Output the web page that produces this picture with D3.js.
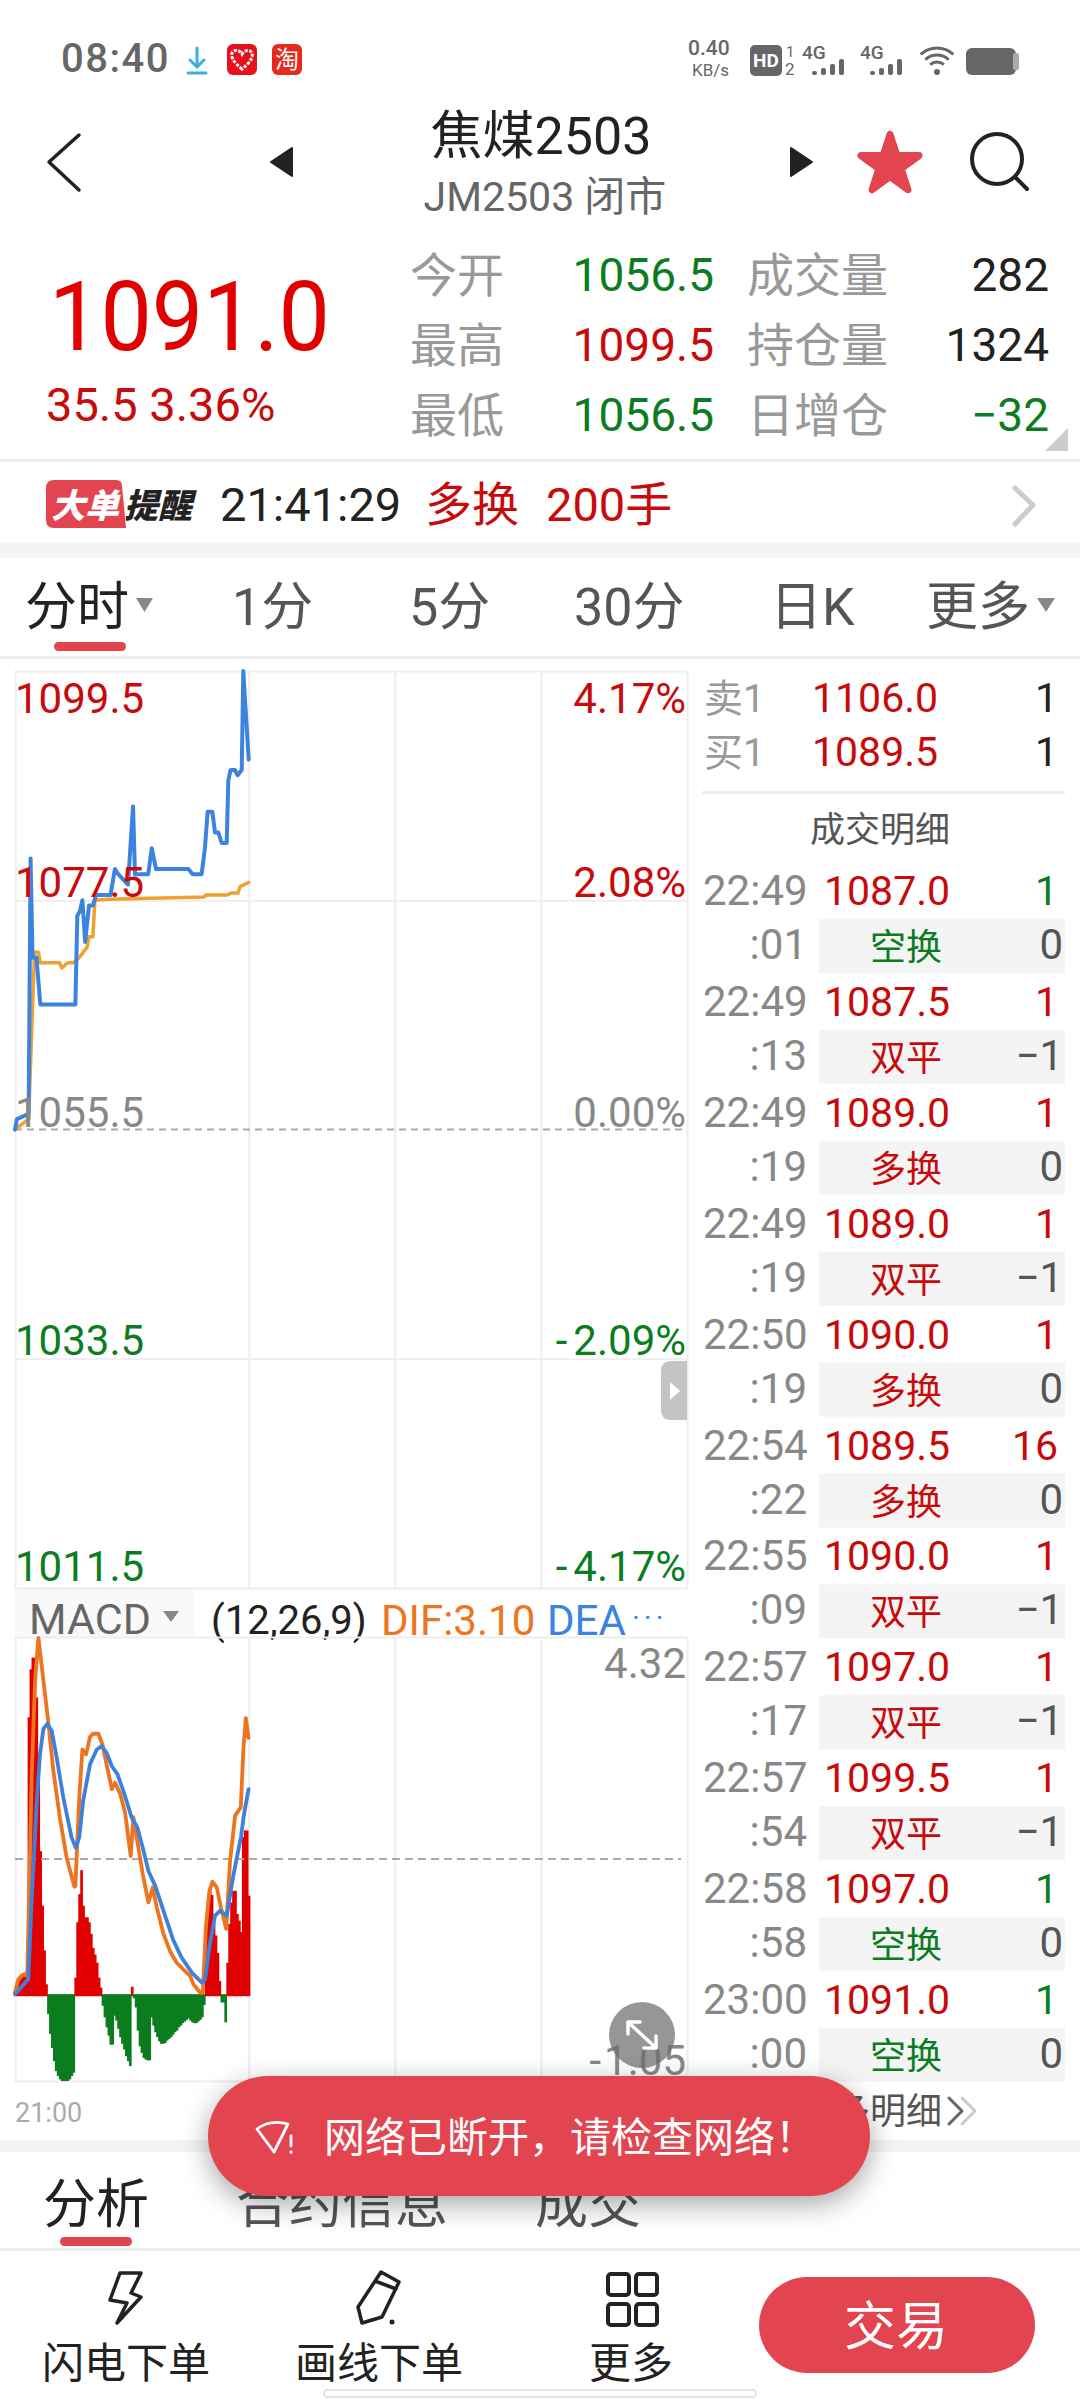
<!DOCTYPE html>
<html>
<head>
<meta charset="utf-8">
<script src="https://cdn.jsdelivr.net/npm/d3@7"></script>
<style>
  html, body { margin: 0; padding: 0; background: #fff; }
  svg { display: block; }
  text { font-family: Roboto, "Noto Sans CJK SC", sans-serif; }
  .grid line { stroke: #eeeeee; stroke-width: 2; }
  .grid path { display: none; }
  .toast { filter: drop-shadow(0 8px 14px rgba(0,0,0,.35)); }
</style>
</head>
<body>
<svg id="screen" width="1080" height="2400"></svg>
<script>
// session: 21:00 is minute 0, the full trading day has 345 minutes
const priceMinutes = [0,1,7,8,9,11,13,31,32,33.4,34.6,36,38,40,41.6,46,49,51.3,53,58,60.6,61.6,68.4,70.2,72.4,89,91.2,95.8,97.5,98.9,101.3,102.7,104.4,106.1,108.7,109.5,110.7,112.9,114.3,116.4,117.2,118,120];
const priceValues = [1055.5,1056.5,1057,1081.5,1072,1072,1067.5,1067.5,1076,1076.5,1077.5,1073.5,1077,1077,1078,1078,1078,1080.5,1080,1079,1086.5,1080,1080,1082.5,1080.5,1080.5,1080,1080,1082.5,1086,1086,1084,1084,1083,1083,1089,1090,1090,1089.5,1090,1099.5,1097,1091];
const avgMinutes = [0,7,10,12,13,23,24,27,30,33,35,37,38,40,41,48,97,98,109,111,114.5,115.5,120];
const avgValues = [1055.5,1056.5,1072.5,1072.5,1071.5,1071.5,1071,1071.5,1071.5,1072,1072.5,1073,1074,1074,1077.5,1077.6,1077.8,1078,1078,1078.2,1078.2,1078.8,1079.2];
const priceTicks = [1099.5,1077.5,1055.5,1033.5,1011.5];
const priceTickPercents = ['4.17%','2.08%','0.00%','-2.09%','-4.17%'];
const timeGridMinutes = [120,195,270];

const macdBars = [0.05,0.12,0.2,0.24,0.25,0.26,0.27,3.35,3.93,4.07,4.07,3.59,2.56,1.73,1.07,0.53,0.12,
  -0.24,-0.48,-0.65,-0.81,-0.93,-0.99,-1.03,-1.05,-1.05,-1.05,-1.05,-1.03,-0.99,-0.95,
  0.2,0.87,1.21,1.5,1.07,0.93,0.93,0.87,0.73,0.56,0.48,0.38,0.2,0.08,
  -0.14,-0.28,-0.4,-0.5,-0.61,-0.61,-0.26,-0.32,-0.42,-0.52,-0.6,-0.67,-0.75,-0.81,-0.87,
  0.09,-0.05,-0.16,-0.44,-0.63,-0.71,-0.77,-0.79,-0.8,-0.8,-0.28,-0.38,-0.46,-0.52,-0.57,-0.6,-0.6,-0.59,-0.56,-0.54,-0.52,-0.49,-0.46,-0.44,-0.4,-0.38,-0.35,-0.33,-0.31,-0.29,-0.32,-0.34,-0.35,-0.35,-0.33,-0.31,-0.28,-0.13,
  0.79,1.13,1.29,1.2,0.85,0.71,0.5,0.16,-0.1,-0.1,-0.34,
  0.38,0.85,1.11,1.25,1.25,0.97,0.89,0.75,1.9,1.98,1.98,1.19];
const difMinutes = [0,1.7,4.3,6.3,7.2,8.6,10.3,12,17,19.7,23,26.5,30.5,31,33,34.6,36.5,38.5,40,42.8,44.9,47,49.7,51.4,54,56.5,59.4,60.8,62.8,65.6,68.5,70.7,72.8,76.2,79.6,83,87.3,89.9,91.6,95,96.4,98,99.8,101.4,103.6,105.7,108.4,110.4,113,115.9,117.3,118.5,119.9];
const difValues = [0.02,0.18,0.24,0.22,1.17,2.66,3.79,4.31,3.31,2.7,2.14,1.65,1.3,1.31,2.38,2.96,2.9,3.11,3.15,3.15,3.02,2.78,2.48,2.56,2.42,2.2,1.67,2.14,1.85,1.45,1.11,1.29,1.05,0.73,0.52,0.38,0.28,0.22,0.12,0.02,0.02,0.81,1.25,1.36,1.29,1.05,0.79,1.61,2.16,2.26,2.98,3.34,3.1];
const deaMinutes = [0,6.8,8.6,11,12.8,14.6,16.6,18.8,21.4,24.8,29,31.2,33,35,38.5,42,44.5,47,49.7,52.6,55.6,60,62.8,65.6,68.5,72,76.2,81.3,85.6,90.8,95.9,97.6,100,102.7,105.3,108.7,112.2,116,117.6,119.9];
const deaValues = [0,0.18,1.17,2.26,2.9,3.21,3.27,3.19,2.86,2.38,1.9,1.77,1.9,2.34,2.78,2.96,3,2.92,2.76,2.66,2.46,2.13,2.02,1.77,1.49,1.31,1.01,0.65,0.44,0.26,0.14,0.18,0.6,0.95,1.01,0.95,1.45,1.9,2.18,2.48];

const tradeTimes = ['22:49','22:49','22:49','22:49','22:50','22:54','22:55','22:57','22:57','22:58','23:00'];
const tradeSeconds = [':01',':13',':19',':19',':19',':22',':09',':17',':54',':58',':00'];
const tradePrices = ['1087.0','1087.5','1089.0','1089.0','1090.0','1089.5','1090.0','1097.0','1099.5','1097.0','1091.0'];
const tradeVolumes = [1,1,1,1,1,16,1,1,1,1,1];
const tradeSides = ['sell','buy','buy','buy','buy','buy','buy','buy','buy','sell','sell'];
const tradeKinds = ['空换','双平','多换','双平','多换','多换','双平','双平','双平','空换','空换'];
const tradeOpenInterest = ['0','−1','0','−1','0','0','−1','−1','−1','0','0'];

const RED = '#c90a0a', GREEN = '#0b7d1f', GRAY = '#888888', DARK = '#222222', ACCENT = '#e2454f';

const svg = d3.select('#screen');

function text(parent, x, y, str, size, fill, anchor = 'start', extra = {}) {
    const t = parent.append('text')
        .attr('x', x).attr('y', y)
        .attr('font-size', size)
        .attr('fill', fill)
        .attr('text-anchor', anchor);
    // the app leaves a wider gap after a leading minus sign
    if (String(str).startsWith('-')) {
        t.append('tspan').text('-');
        t.append('tspan').attr('dx', extra.minusGap || 0).text(String(str).slice(1));
    } else {
        t.text(str);
    }
    Object.entries(extra).filter(([k]) => k !== 'minusGap').forEach(([k, v]) => t.attr(k, v));
    return t;
}

function stroke(parent, d, color, width) {
    return parent.append('path').attr('d', d)
        .attr('fill', 'none').attr('stroke', color).attr('stroke-width', width)
        .attr('stroke-linecap', 'round').attr('stroke-linejoin', 'round');
}

function renderStatusBar() {
    const g = svg.append('g');
    text(g, 61, 72, '08:40', 40, '#666666', 'start', { 'letter-spacing': 1.5, 'font-weight': 500 });
    stroke(g, 'M197,48V66M190,60L197,67L204,60', '#3ab0e0', 3);
    stroke(g, 'M188,73H206', '#3ab0e0', 3);
    g.append('rect').attr('x', 227).attr('y', 44).attr('width', 30).attr('height', 31).attr('rx', 6).attr('fill', '#e8101c');
    g.append('path').attr('d', 'M242,69C232,61 231,56 232,53C234,49 240,50 242,54C244,50 250,49 252,53C253,56 252,61 242,69Z')
        .attr('fill', 'none').attr('stroke', '#fff').attr('stroke-width', 3).attr('stroke-dasharray', '3,1.5');
    g.append('rect').attr('x', 272).attr('y', 44).attr('width', 30).attr('height', 31).attr('rx', 6).attr('fill', '#e8281c');
    text(g, 287, 68, '淘', 24, '#ffffff', 'middle');

    text(g, 688, 55, '0.40', 21, '#666666', 'start', { 'font-weight': 500 });
    text(g, 692, 76, 'KB/s', 17, '#666666');
    g.append('rect').attr('x', 750).attr('y', 45).attr('width', 32).attr('height', 31).attr('rx', 5).attr('fill', '#666666');
    text(g, 766, 67, 'HD', 19, '#ffffff', 'middle', { 'font-weight': 700 });
    text(g, 786, 57, '1', 15, '#666666');
    text(g, 785, 75, '2', 17, '#666666');
    [802, 860].forEach(x => {
        text(g, x, 59, '4G', 19, '#666666', 'start', { 'font-weight': 500 });
        [4, 7, 11, 16].forEach((h, i) => {
            g.append('rect').attr('x', x + 10 + i * 9).attr('y', 75 - h).attr('width', 5).attr('height', h).attr('rx', 2).attr('fill', '#666666');
        });
    });
    [10, 17, 24].forEach(r => {
        const arc = d3.arc().innerRadius(r - 1.5).outerRadius(r + 1.5).startAngle(-0.75).endAngle(0.75);
        g.append('path').attr('d', arc()).attr('transform', 'translate(937,72)').attr('fill', '#666666');
    });
    g.append('circle').attr('cx', 937).attr('cy', 72).attr('r', 3).attr('fill', '#666666');
    g.append('rect').attr('x', 966).attr('y', 48).attr('width', 50).attr('height', 27).attr('rx', 6).attr('fill', '#666666');
    g.append('rect').attr('x', 1013).attr('y', 53).attr('width', 6).attr('height', 17).attr('rx', 2).attr('fill', '#aaaaaa');
}

function renderHeader() {
    const g = svg.append('g');
    stroke(g, 'M79,135L49,162L79,190', DARK, 3.5);
    g.append('path').attr('d', 'M292,148V176L271,162Z').attr('fill', DARK).attr('stroke', DARK).attr('stroke-linejoin', 'round').attr('stroke-width', 2);
    g.append('path').attr('d', 'M791,148V176L812,162Z').attr('fill', DARK).attr('stroke', DARK).attr('stroke-linejoin', 'round').attr('stroke-width', 2);
    text(g, 541, 154, '焦煤2503', 52, DARK, 'middle');
    text(g, 545, 211, 'JM2503 闭市', 41, '#666666', 'middle');
    g.append('path').attr('d', d3.symbol(d3.symbolStar, 1050)())
        .attr('transform', 'translate(890,165)')
        .attr('fill', ACCENT).attr('stroke', ACCENT).attr('stroke-width', 7).attr('stroke-linejoin', 'round');
    g.append('circle').attr('cx', 997).attr('cy', 159).attr('r', 25).attr('fill', 'none').attr('stroke', DARK).attr('stroke-width', 4);
    stroke(g, 'M1015,177L1027,189', DARK, 4);

    text(g, 49, 350, '1091.0', 96, '#e00000', 'start', { textLength: 281, lengthAdjust: 'spacingAndGlyphs' });
    text(g, 46, 421, '35.5 3.36%', 47, RED);

    const statLabels = ['今开', '最高', '最低'];
    const statValues = ['1056.5', '1099.5', '1056.5'];
    const statColors = [GREEN, RED, GREEN];
    const stat2Labels = ['成交量', '持仓量', '日增仓'];
    const stat2Values = ['282', '1324', '−32'];
    const stat2Colors = [DARK, DARK, GREEN];
    statLabels.forEach((label, i) => {
        const y = 292 + i * 70;
        text(g, 410, y, label, 47, '#999999');
        text(g, 714, y - 1, statValues[i], 46, statColors[i], 'end');
        text(g, 747, y, stat2Labels[i], 47, '#999999');
        text(g, 1049, y - 1, stat2Values[i], 46, stat2Colors[i], 'end');
    });
    g.append('path').attr('d', 'M1068,428V451H1045Z').attr('fill', '#cccccc');

    g.append('rect').attr('x', 0).attr('y', 459).attr('width', 1080).attr('height', 3).attr('fill', '#eeeeee');
    g.append('rect').attr('x', 0).attr('y', 543).attr('width', 1080).attr('height', 15).attr('fill', '#f4f4f4');
    g.append('path').attr('d', 'M54,480H116Q122,480 122,486L126,528H54Q46,528 46,520V488Q46,480 54,480Z').attr('fill', ACCENT);
    text(g, 85, 518, '大单', 34, '#ffffff', 'middle', { 'font-weight': 900, 'font-style': 'italic' });
    text(g, 124, 518, '提醒', 34, DARK, 'start', { 'font-weight': 900, 'font-style': 'italic' });
    text(g, 220, 521, '21:41:29', 47, DARK);
    text(g, 425, 521, '多换', 47, RED);
    text(g, 546, 521, '200手', 47, RED);
    stroke(g, 'M1015,488L1033,505L1015,524', '#cccccc', 5);
}

function renderTabs() {
    const g = svg.append('g');
    const tabLabels = ['分时', '1分', '5分', '30分', '日K', '更多'];
    const tabX = [25, 232, 409, 574, 770, 926];
    tabLabels.forEach((label, i) => {
        text(g, tabX[i], 625, label, 52, i === 0 ? DARK : '#555555');
    });
    g.append('path').attr('d', 'M136,598H153L144.5,612Z').attr('fill', '#888888');
    g.append('path').attr('d', 'M1037,598H1055L1046,612Z').attr('fill', '#888888');
    g.append('rect').attr('x', 54).attr('y', 642).attr('width', 72).attr('height', 9).attr('rx', 4.5).attr('fill', ACCENT);
    g.append('rect').attr('x', 0).attr('y', 656).attr('width', 1080).attr('height', 3).attr('fill', '#eeeeee');
}

const left = 15, right = 687;
const xMinute = d3.scaleLinear().domain([0, 345]).range([left, right]);

function minuteLine(minutes, values, yScale) {
    return d3.line()
        .x((d, i) => xMinute(minutes[i]))
        .y(d => yScale(d))(values);
}

function renderGrid(g, yScale, ticks) {
    g.append('g').attr('class', 'grid')
        .attr('transform', `translate(${left},0)`)
        .call(d3.axisRight(yScale).tickValues(ticks).tickSize(right - left).tickFormat(''));
    g.append('g').attr('class', 'grid')
        .attr('transform', `translate(0,${yScale.range()[1]})`)
        .call(d3.axisBottom(xMinute).tickValues([0, ...timeGridMinutes, 345]).tickSize(yScale.range()[0] - yScale.range()[1]).tickFormat(''));
}

function renderPriceChart() {
    const g = svg.append('g');
    const y = d3.scaleLinear().domain([1011.5, 1099.5]).range([1588, 671]);

    renderGrid(g, y, priceTicks.filter(t => t !== 1055.5));
    g.append('line').attr('x1', left).attr('x2', right).attr('y1', y(1055.5)).attr('y2', y(1055.5))
        .attr('stroke', '#aaaaaa').attr('stroke-width', 2).attr('stroke-dasharray', '7,5');

    stroke(g, minuteLine(avgMinutes, avgValues, y), '#efa02e', 3.5);
    stroke(g, minuteLine(priceMinutes, priceValues, y), '#3a84e0', 4);

    const tickColor = v => v > 1055.5 ? RED : v < 1055.5 ? GREEN : GRAY;
    const tickOffset = [42, -3, -3, -4, -7];
    priceTicks.forEach((v, i) => {
        text(g, 15, y(v) + tickOffset[i], v.toFixed(1), 42, tickColor(v));
        text(g, 686, y(v) + tickOffset[i], priceTickPercents[i], 42, tickColor(v), 'end', { minusGap: 6 });
    });

    g.append('path').attr('d', 'M687,1361H671Q661,1361 661,1371V1410Q661,1420 671,1420H687Z').attr('fill', '#c4c4c4');
    g.append('path').attr('d', 'M670,1382L680,1391L670,1400Z').attr('fill', '#ffffff');
}

function renderMacdChart() {
    const g = svg.append('g');
    const y = d3.scaleLinear().domain([-1.05, 4.32]).range([2081, 1637]);

    g.append('rect').attr('x', 15).attr('y', 1590).attr('width', 180).attr('height', 47).attr('fill', '#f9f9f9');
    text(g, 29, 1634, 'MACD', 43, '#666666');
    g.append('path').attr('d', 'M163,1611H179L171,1622Z').attr('fill', '#888888');
    text(g, 211, 1634, '(12,26,9)', 40, DARK);
    text(g, 381, 1635, 'DIF:3.10', 42, '#ee7420');
    text(g, 547, 1635, 'DEA', 42, '#3a84e0');
    text(g, 632, 1628, '···', 30, '#3a84e0', 'start', { 'letter-spacing': 4 });

    renderGrid(g, y, [4.32, -1.05]);

    g.selectAll('rect.hist').data(macdBars).enter().append('rect')
        .attr('class', 'hist')
        .attr('x', (d, i) => xMinute(i) - 1)
        .attr('width', 2.7)
        .attr('y', d => d >= 0 ? y(d) : y(0))
        .attr('height', d => d >= 0 ? y(0) - y(d) + 2 : y(d) - y(0))
        .attr('fill', d => d >= 0 ? '#e00000' : '#0b7d1f');

    const mid = y.invert((1637 + 2081) / 2);
    g.append('line').attr('x1', left).attr('x2', 681).attr('y1', y(mid)).attr('y2', y(mid))
        .attr('stroke', '#aaaaaa').attr('stroke-width', 2).attr('stroke-dasharray', '8,5');

    stroke(g, minuteLine(difMinutes, difValues, y), '#ee7420', 3.8);
    stroke(g, minuteLine(deaMinutes, deaValues, y), '#3f80db', 3.8);

    text(g, 686, 1678, '4.32', 42, GRAY, 'end');
    text(g, 686, 2075, '-1.05', 42, GRAY, 'end', { minusGap: 3 });
    text(g, 15, 2122, '21:00', 27, '#aaaaaa');

    g.append('circle').attr('cx', 642).attr('cy', 2035).attr('r', 33).attr('fill', 'rgba(110,110,110,.72)');
    stroke(g, 'M628,2022L656,2048M628,2034V2022H640M656,2036V2048H644', '#ffffff', 3.5);
}

function renderDepth() {
    const g = svg.append('g');
    const askBidLabels = ['卖1', '买1'];
    const askBidPrices = ['1106.0', '1089.5'];
    askBidLabels.forEach((label, i) => {
        const y = 712 + i * 54;
        text(g, 704, y, label, 39, '#999999');
        text(g, 812, y, askBidPrices[i], 41, RED);
        text(g, 1058, y, '1', 41, DARK, 'end');
    });
    g.append('rect').attr('x', 702).attr('y', 791).attr('width', 363).attr('height', 3).attr('fill', '#eeeeee');
    text(g, 880, 842, '成交明细', 35, '#555555', 'middle');

    tradeTimes.forEach((t, i) => {
        const y = 905 + i * 110.9;
        const sideColor = tradeSides[i] === 'buy' ? RED : GREEN;
        text(g, 703, y, t, 42, GRAY);
        text(g, 824, y, tradePrices[i], 41, RED);
        text(g, 1058, y, tradeVolumes[i], 41, sideColor, 'end');
        g.append('rect').attr('x', 819).attr('y', y + 14).attr('width', 246).attr('height', 54).attr('fill', '#f4f4f4');
        text(g, 807, y + 54, tradeSeconds[i], 42, GRAY, 'end');
        text(g, 906, y + 55, tradeKinds[i], 36, tradeKinds[i] === '空换' ? GREEN : RED, 'middle');
        text(g, 1063, y + 54, tradeOpenInterest[i], 42, '#555555', 'end');
    });

    text(g, 942, 2124, '更多明细', 36, '#555555', 'end');
    stroke(g, 'M949,2098L962,2111L949,2124', '#666666', 3);
    stroke(g, 'M962,2098L975,2111L962,2124', '#cccccc', 3);
}

function renderBottom() {
    const g = svg.append('g');
    g.append('rect').attr('x', 0).attr('y', 2140).attr('width', 1080).attr('height', 12).attr('fill', '#f4f4f4');
    text(g, 43, 2223, '分析', 53, DARK);
    text(g, 236, 2223, '合约信息', 53, '#555555');
    text(g, 535, 2223, '成交', 53, '#555555');
    g.append('rect').attr('x', 60).attr('y', 2237).attr('width', 72).attr('height', 9).attr('rx', 4.5).attr('fill', ACCENT);
    g.append('rect').attr('x', 0).attr('y', 2248).attr('width', 1080).attr('height', 3).attr('fill', '#eeeeee');

    stroke(g, 'M120,2273H141L131,2293L141,2297L117,2323L127,2303L110,2300Z', DARK, 3.5);
    stroke(g, 'M381,2272L399,2282L382,2317L362,2323L358,2307ZM375,2281L396,2289', DARK, 3.5);
    g.append('circle').attr('cx', 392).attr('cy', 2322).attr('r', 2.5).attr('fill', DARK);
    [[606, 2272], [634, 2272], [606, 2302], [634, 2302]].forEach(([x, y]) => {
        g.append('rect').attr('x', x + 2).attr('y', y + 2).attr('width', 21).attr('height', 21).attr('rx', 3)
            .attr('fill', 'none').attr('stroke', DARK).attr('stroke-width', 4);
    });
    text(g, 126, 2378, '闪电下单', 42, DARK, 'middle');
    text(g, 379, 2378, '画线下单', 42, DARK, 'middle');
    text(g, 631, 2378, '更多', 42, DARK, 'middle');
    g.append('rect').attr('x', 759).attr('y', 2277).attr('width', 276).attr('height', 96).attr('rx', 48).attr('fill', ACCENT);
    text(g, 896, 2345, '交易', 52, '#ffffff', 'middle');
    g.append('rect').attr('x', 324).attr('y', 2390).attr('width', 432).attr('height', 7).attr('rx', 3.5)
        .attr('fill', '#ffffff').attr('stroke', '#dddddd').attr('stroke-width', 1.5);
}

function renderToast() {
    const g = svg.append('g');
    g.append('rect').attr('class', 'toast').attr('x', 208).attr('y', 2076).attr('width', 662).attr('height', 120).attr('rx', 60).attr('fill', ACCENT);
    stroke(g, 'M257,2129Q270,2119 288,2124L274,2152Z', '#ffffff', 2.8);
    stroke(g, 'M291,2136V2146', '#ffffff', 2.8);
    stroke(g, 'M291,2152V2152.5', '#ffffff', 2.8);
    text(g, 324, 2152, '网络已断开，请检查网络！', 41, '#ffffff');
}

renderStatusBar();
renderHeader();
renderTabs();
renderPriceChart();
renderMacdChart();
renderDepth();
renderBottom();
renderToast();
</script>
</body>
</html>
